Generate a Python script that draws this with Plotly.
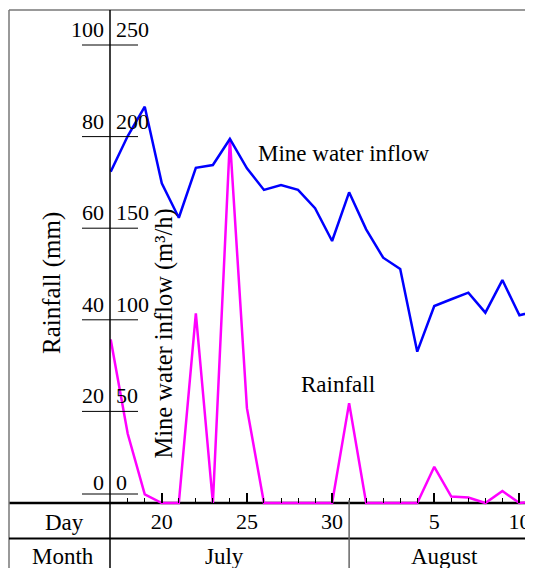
import plotly.graph_objects as go
import pandas as pd

# ---- data ----
year = 2023
months = ["July"] * 15 + ["August"] * 11
days = list(range(17, 32)) + list(range(1, 12))
inflow = [180.9, 200.3, 216.3, 174.5, 155.7, 183.0, 184.5, 198.7, 182.7, 170.9,
          173.6, 170.9, 160.9, 143.0, 169.6, 149.4, 133.9, 127.7, 82.6, 107.5,
          111.2, 114.8, 103.9, 121.7, 102.5, 104.8]
rainfall = [35.7, 15.1, 1.9, 0, 0, 41.4, 0, 79.5, 20.7, 0,
            0, 0, 0, 0, 21.8, 0, 0, 0, 0, 7.9,
            1.4, 1.2, 0, 2.6, 0, 0.3]
rain_ticks = [0, 20, 40, 60, 80, 100]
flow_ticks = [0, 50, 100, 150, 200, 250]
day_tick_months = ["July", "July", "July", "August", "August"]
day_tick_days = [20, 25, 30, 5, 10]
month_names = ["July", "August"]

month_num = {"July": 7, "August": 8}
dates = [pd.Timestamp(year, month_num[m], d) for m, d in zip(months, days)]
tick_dates = [pd.Timestamp(year, month_num[m], d) for m, d in zip(day_tick_months, day_tick_days)]

# ---- layout geometry (figure pixels; page has 8px body offset) ----
OFF = 8
W, H = 533 - OFF, 568 - OFF
L, R, T = 102, 0, 2
B = H - (510 - OFF)
PW, PH = W - L - R, H - T - B


def PX(x):  # screen x -> paper
    return (x - OFF - L) / PW


def PY(y):  # screen y -> paper
    return (H - B - (y - OFF)) / PH


FONT = "Liberation Serif"
BLUE = "#0000ff"
MAG = "#ff00ff"

fig = go.Figure()
fig.add_trace(go.Scatter(x=dates, y=rainfall, mode="lines", yaxis="y",
                         line=dict(color=MAG, width=2.5), name="Rainfall"))
fig.add_trace(go.Scatter(x=dates, y=inflow, mode="lines", yaxis="y2",
                         line=dict(color=BLUE, width=2.5), name="Mine water inflow"))

px_per_rain = 458 / 100
px_per_flow = 458 / 250
zero_fig = 503 - OFF
bottom_fig = H - B
y_lo_r = -(bottom_fig - zero_fig) / px_per_rain
y_hi_r = (zero_fig - T) / px_per_rain
y_lo_f = -(bottom_fig - zero_fig) / px_per_flow
y_hi_f = (zero_fig - T) / px_per_flow

px_per_day = 17.03
x0 = pd.Timestamp(year, 7, 17) - pd.Timedelta(days=(110.7 - (OFF + L)) / px_per_day)
x1 = x0 + pd.Timedelta(days=PW / px_per_day)

fig.update_layout(
    width=W, height=H,
    margin=dict(l=L, r=R, t=T, b=B, pad=0),
    paper_bgcolor="white", plot_bgcolor="white",
    showlegend=False,
    font=dict(family=FONT, size=22, color="black"),
    xaxis=dict(type="date", range=[x0, x1], anchor="free", position=PY(503),
               tickmode="array", tickvals=tick_dates, ticktext=[str(d) for d in day_tick_days],
               ticks="inside", ticklen=10, tickwidth=1.5, tickcolor="black",
               ticklabelstandoff=3,
               showgrid=False, zeroline=False, showline=False,
               tickfont=dict(family=FONT, size=22, color="black"),
               minor=dict(dtick=86400000, ticks="inside", ticklen=5, tickwidth=1,
                          tickcolor="black", showgrid=False)),
    yaxis=dict(range=[y_lo_r, y_hi_r], visible=False, showgrid=False, zeroline=False),
    yaxis2=dict(range=[y_lo_f, y_hi_f], overlaying="y", visible=False,
                showgrid=False, zeroline=False),
)

shapes = []
line_k = dict(color="black", width=1.5)
# outer frame
shapes.append(dict(type="line", xref="paper", yref="paper", x0=PX(9), x1=PX(545),
                   y0=PY(10), y1=PY(10), line=dict(color="#777777", width=1.5)))
shapes.append(dict(type="line", xref="paper", yref="paper", x0=PX(9), x1=PX(9),
                   y0=PY(580), y1=PY(10), line=dict(color="#777777", width=1.5)))
# vertical axis line
shapes.append(dict(type="line", xref="paper", yref="paper", x0=PX(110), x1=PX(110),
                   y0=PY(580), y1=PY(10), line=line_k))
# baseline
shapes.append(dict(type="line", xref="paper", yref="paper", x0=PX(9), x1=PX(545),
                   y0=PY(503), y1=PY(503), line=dict(color="black", width=2.5),
                   layer="below"))
# table row separator
shapes.append(dict(type="line", xref="paper", yref="paper", x0=PX(9), x1=PX(545),
                   y0=PY(538.5), y1=PY(538.5), line=dict(color="black", width=2)))
# month separator at end of July
shapes.append(dict(type="line", xref="x", yref="paper",
                   x0=pd.Timestamp(year, 7, 31), x1=pd.Timestamp(year, 7, 31),
                   y0=PY(580), y1=PY(500), line=dict(color="#666666", width=1.5)))
# y tick lines
for v in rain_ticks:
    off = 9 if v == 0 else 0
    shapes.append(dict(type="line", xref="paper", yref="y", ysizemode="pixel", yanchor=v,
                       x0=PX(82), x1=PX(138), y0=off, y1=off,
                       line=dict(color="black", width=1)))
fig.update_layout(shapes=shapes)

ann = []
for v in rain_ticks:
    ann.append(dict(xref="paper", yref="y", x=PX(106), y=v, text=str(v), showarrow=False,
                    xanchor="right", yanchor="bottom", yshift=6 if v == 0 else 1,
                    font=dict(family=FONT, size=22, color="black")))
for v in flow_ticks:
    ann.append(dict(xref="paper", yref="y2", x=PX(114), y=v, text=str(v), showarrow=False,
                    xanchor="left", yanchor="bottom", yshift=6 if v == 0 else 1,
                    font=dict(family=FONT, size=22, color="black")))
ann.append(dict(xref="paper", yref="paper", x=PX(52), y=PY(283), text="Rainfall (mm)",
                textangle=-90, showarrow=False, xanchor="center", yanchor="middle",
                font=dict(family=FONT, size=25, color="black")))
ann.append(dict(xref="paper", yref="paper", x=PX(163), y=PY(333.5),
                text="Mine water inflow (m³/h)",
                textangle=-90, showarrow=False, xanchor="center", yanchor="middle",
                font=dict(family=FONT, size=24.5, color="black")))
ann.append(dict(xref="paper", yref="paper", x=PX(256), y=PY(153), text="Mine water inflow",
                showarrow=False, xanchor="left", yanchor="middle",
                font=dict(family=FONT, size=23, color="black")))
ann.append(dict(xref="paper", yref="paper", x=PX(338), y=PY(384), text="Rainfall",
                showarrow=False, xanchor="center", yanchor="middle",
                font=dict(family=FONT, size=23, color="black")))
ann.append(dict(xref="paper", yref="paper", x=PX(64), y=PY(522), text="Day",
                showarrow=False, xanchor="center", yanchor="middle",
                font=dict(family=FONT, size=23, color="black")))
ann.append(dict(xref="paper", yref="paper", x=PX(63), y=PY(556), text="Month",
                showarrow=False, xanchor="center", yanchor="middle",
                font=dict(family=FONT, size=23, color="black")))
ann.append(dict(xref="paper", yref="paper", x=PX(224), y=PY(556), text=month_names[0],
                showarrow=False, xanchor="center", yanchor="middle",
                font=dict(family=FONT, size=23, color="black")))
ann.append(dict(xref="paper", yref="paper", x=PX(444), y=PY(556), text=month_names[1],
                showarrow=False, xanchor="center", yanchor="middle",
                font=dict(family=FONT, size=23, color="black")))
fig.update_layout(annotations=ann)

fig.write_html("out.html")
